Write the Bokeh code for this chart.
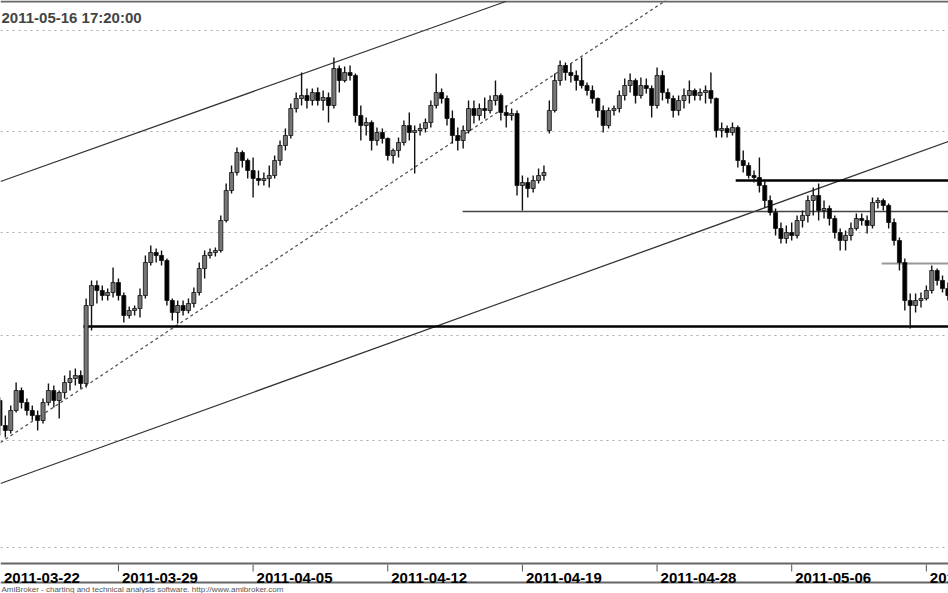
from bokeh.plotting import figure
from bokeh.models import FixedTicker, Label, Range1d, Grid, ColumnDataSource
from bokeh.core.properties import value
from bokeh.embed import file_html
from bokeh.resources import INLINE

# ---- data: intraday bars (bar index; 5 bars per trading day) ----
bar_index = list(range(3, 180))
open_ = [2600, 2575, 2570, 2590, 2610, 2598, 2590, 2585, 2580, 2598, 2610, 2600, 2608, 2618, 2622, 2625, 2617, 2695, 2715, 2710,
         2705, 2708, 2718, 2705, 2685, 2690, 2692, 2705, 2738, 2748, 2745, 2740, 2700, 2688, 2695, 2690, 2697, 2708, 2732, 2745,
         2748, 2750, 2780, 2810, 2828, 2848, 2840, 2830, 2822, 2820, 2822, 2825, 2840, 2855, 2865, 2892, 2902, 2905, 2900, 2908,
         2900, 2903, 2895, 2932, 2920, 2928, 2925, 2885, 2875, 2878, 2860, 2868, 2862, 2845, 2850, 2858, 2875, 2868, 2870, 2872,
         2878, 2895, 2908, 2902, 2882, 2865, 2860, 2870, 2892, 2885, 2892, 2890, 2900, 2905, 2888, 2885, 2887, 2815, 2818, 2812,
         2820, 2825, 2870, 2890, 2920, 2935, 2928, 2925, 2920, 2915, 2910, 2902, 2890, 2875, 2890, 2892, 2905, 2915, 2920, 2905,
         2915, 2912, 2895, 2925, 2908, 2902, 2890, 2900, 2905, 2910, 2905, 2908, 2910, 2902, 2870, 2872, 2868, 2873, 2840, 2835,
         2825, 2823, 2815, 2800, 2788, 2772, 2762, 2768, 2765, 2780, 2785, 2800, 2805, 2790, 2792, 2782, 2768, 2760, 2765, 2772,
         2782, 2780, 2775, 2798, 2800, 2795, 2778, 2760, 2738, 2700, 2695, 2700, 2702, 2710, 2730, 2720, 2712]
high = [2603, 2585, 2595, 2618, 2613, 2602, 2595, 2590, 2602, 2617, 2615, 2610, 2625, 2630, 2632, 2630, 2702, 2720, 2720, 2715,
        2712, 2733, 2722, 2708, 2694, 2695, 2712, 2745, 2755, 2752, 2750, 2742, 2702, 2700, 2700, 2702, 2713, 2738, 2750, 2752,
        2753, 2785, 2817, 2835, 2853, 2850, 2842, 2843, 2830, 2828, 2835, 2845, 2860, 2872, 2897, 2908, 2928, 2912, 2912, 2913,
        2910, 2908, 2943, 2935, 2934, 2935, 2927, 2895, 2883, 2880, 2873, 2872, 2863, 2852, 2863, 2880, 2888, 2875, 2877, 2882,
        2900, 2927, 2912, 2905, 2890, 2873, 2875, 2900, 2900, 2897, 2903, 2905, 2920, 2907, 2895, 2892, 2890, 2825, 2823, 2825,
        2832, 2835, 2900, 2927, 2940, 2938, 2937, 2930, 2943, 2918, 2915, 2903, 2895, 2893, 2895, 2910, 2922, 2927, 2922, 2923,
        2922, 2915, 2933, 2930, 2912, 2905, 2905, 2912, 2920, 2912, 2912, 2915, 2928, 2903, 2878, 2875, 2878, 2875, 2850, 2838,
        2830, 2843, 2820, 2805, 2792, 2778, 2775, 2778, 2785, 2790, 2805, 2813, 2817, 2800, 2795, 2785, 2772, 2770, 2778, 2787,
        2787, 2785, 2803, 2803, 2802, 2797, 2782, 2763, 2742, 2707, 2707, 2708, 2715, 2735, 2732, 2725, 2718]
low = [2565, 2563, 2567, 2588, 2592, 2585, 2580, 2570, 2577, 2595, 2593, 2582, 2602, 2610, 2615, 2612, 2613, 2670, 2697, 2700,
       2700, 2703, 2700, 2678, 2682, 2685, 2683, 2702, 2735, 2738, 2735, 2695, 2680, 2677, 2685, 2687, 2693, 2705, 2722, 2742,
       2744, 2748, 2778, 2807, 2825, 2833, 2822, 2803, 2815, 2815, 2813, 2822, 2835, 2850, 2862, 2888, 2895, 2892, 2895, 2895,
       2890, 2878, 2892, 2908, 2918, 2920, 2878, 2860, 2865, 2850, 2855, 2857, 2840, 2837, 2843, 2855, 2860, 2827, 2865, 2868,
       2873, 2892, 2897, 2875, 2857, 2850, 2852, 2867, 2877, 2880, 2882, 2887, 2895, 2880, 2873, 2880, 2805, 2790, 2803, 2808,
       2817, 2820, 2867, 2888, 2915, 2920, 2918, 2910, 2912, 2905, 2897, 2883, 2868, 2872, 2885, 2888, 2900, 2908, 2897, 2902,
       2907, 2883, 2892, 2900, 2897, 2883, 2885, 2892, 2897, 2900, 2900, 2897, 2897, 2863, 2863, 2863, 2865, 2833, 2828, 2822,
       2818, 2808, 2793, 2785, 2765, 2757, 2757, 2760, 2762, 2773, 2778, 2785, 2780, 2782, 2775, 2762, 2750, 2750, 2760, 2770,
       2775, 2767, 2772, 2792, 2790, 2772, 2755, 2730, 2690, 2672, 2688, 2693, 2700, 2707, 2715, 2708, 2700]
close = [2575, 2570, 2590, 2610, 2598, 2590, 2585, 2580, 2598, 2610, 2600, 2608, 2618, 2622, 2625, 2617, 2695, 2715, 2710, 2705,
         2708, 2718, 2705, 2685, 2690, 2692, 2705, 2738, 2748, 2745, 2740, 2700, 2688, 2695, 2690, 2697, 2708, 2732, 2745, 2748,
         2750, 2780, 2810, 2828, 2848, 2840, 2830, 2822, 2820, 2822, 2825, 2840, 2855, 2865, 2892, 2902, 2905, 2900, 2908, 2900,
         2903, 2895, 2932, 2920, 2928, 2925, 2885, 2875, 2878, 2860, 2868, 2862, 2845, 2850, 2858, 2875, 2868, 2870, 2872, 2878,
         2895, 2908, 2902, 2882, 2865, 2860, 2870, 2892, 2885, 2892, 2890, 2900, 2905, 2888, 2885, 2887, 2815, 2818, 2812, 2820,
         2825, 2828, 2890, 2920, 2935, 2928, 2925, 2920, 2915, 2910, 2902, 2890, 2875, 2890, 2892, 2905, 2915, 2920, 2905, 2915,
         2912, 2895, 2925, 2908, 2902, 2890, 2900, 2905, 2910, 2905, 2908, 2910, 2902, 2870, 2872, 2868, 2873, 2840, 2835, 2825,
         2823, 2815, 2800, 2788, 2772, 2762, 2768, 2765, 2780, 2785, 2800, 2805, 2790, 2792, 2782, 2768, 2760, 2765, 2772, 2782,
         2780, 2775, 2798, 2800, 2795, 2778, 2760, 2738, 2700, 2695, 2700, 2702, 2710, 2730, 2720, 2712, 2705]

tick_bars = [0, 25, 50, 75, 100, 125, 150, 175]
tick_labels = ["2011-03-22", "2011-03-29", "2011-04-05", "2011-04-12",
               "2011-04-19", "2011-04-28", "2011-05-06", "2011-05-13"]
grid_levels = [2970, 2869, 2768, 2665, 2560, 2453]
title_text = "2011-05-16 17:20:00"
footer_text = "AmiBroker - charting and technical analysis software. http://www.amibroker.com"

# trend lines (bar, price) end points
upper_channel_x, upper_channel_y = [3.1, 96.9], [2819, 2999]
lower_channel_x, lower_channel_y = [3.1, 179.1], [2517, 2859]
dotted_trend_x, dotted_trend_y = [3.1, 126.6], [2558, 3000]
# horizontal levels: (price, start bar)
support_main = (2674, 18.5)
support_thin = (2789, 88.9)
resist_thick = (2820, 139.6)
resist_gray = (2737, 166.7)
end_bar = 181

X0, X1 = 3.101, 179.11
Y0, Y1 = 2407, 3000
axis_top, axis_bottom = 2437, 2418   # price levels bounding the date band

p = figure(width=948, height=593, output_backend="svg", toolbar_location=None,
           x_range=Range1d(X0, X1), y_range=Range1d(Y0, Y1),
           x_axis_location=None, y_axis_location=None, min_border=0)
p.outline_line_color = None
p.background_fill_color = "white"
p.border_fill_color = "white"
p.grid.visible = False

p.add_layout(Grid(dimension=1, ticker=FixedTicker(ticks=grid_levels),
                  grid_line_color="#a8a8a8", grid_line_dash="2 4", grid_line_width=1))

# frame lines (top border and date band)
p.hspan(y=[Y1 - 1, axis_top, axis_bottom], line_color="#666666", line_width=2)

# trend lines
p.line(upper_channel_x, upper_channel_y, line_color="#333333", line_width=1.3)
p.line(lower_channel_x, lower_channel_y, line_color="#333333", line_width=1.3)
p.line(dotted_trend_x, dotted_trend_y, line_color="#555555", line_width=1.3, line_dash="3 3")
p.line([support_main[1], end_bar], [support_main[0]] * 2, line_color="black", line_width=2.5)
p.line([support_thin[1], end_bar], [support_thin[0]] * 2, line_color="#444444", line_width=1.3)
p.line([resist_thick[1], end_bar], [resist_thick[0]] * 2, line_color="black", line_width=2.5)
p.line([resist_gray[1], end_bar], [resist_gray[0]] * 2, line_color="#999999", line_width=2)

# candles
tops = [max(o, c) for o, c in zip(open_, close)]
bottoms = [min(o, c) for o, c in zip(open_, close)]
fills = ["#767676" if c >= o else "black" for o, c in zip(open_, close)]
src = ColumnDataSource(dict(x=bar_index, h=high, l=low, top=tops, bottom=bottoms, fill=fills))
p.segment(x0="x", y0="h", x1="x", y1="l", source=src, line_color="#111111", line_width=1.4)
p.vbar(x="x", width=0.75, top="top", bottom="bottom", fill_color="fill",
       line_color="#111111", line_width=0.8, source=src)

# date ticks and labels
p.segment(x0=tick_bars, y0=[axis_top - 1] * len(tick_bars), x1=tick_bars, y1=[axis_top - 8] * len(tick_bars),
          line_color="#555555", line_width=1)
label_x = [max(b, X0) for b in tick_bars]
p.text(x=label_x, y=[axis_bottom + 5] * len(tick_bars), text=tick_labels, x_offset=3.5,
       text_font=value("Liberation Sans"), text_font_style="bold", text_font_size=value("15px"),
       text_color="black", text_align="left", text_baseline="alphabetic")

# title and footer
p.add_layout(Label(x=1, x_units="screen", y=Y1 - 17, text=title_text,
                   text_font="Liberation Sans", text_font_style="bold",
                   text_font_size="15px", text_baseline="alphabetic", text_align="left"))
p.add_layout(Label(x=1, x_units="screen", y=axis_bottom - 7, text=footer_text,
                   text_font="Liberation Sans", text_font_size="8px", text_color="#555555",
                   text_baseline="alphabetic", text_align="left"))

open("out.html", "w").write(file_html(p, INLINE))
